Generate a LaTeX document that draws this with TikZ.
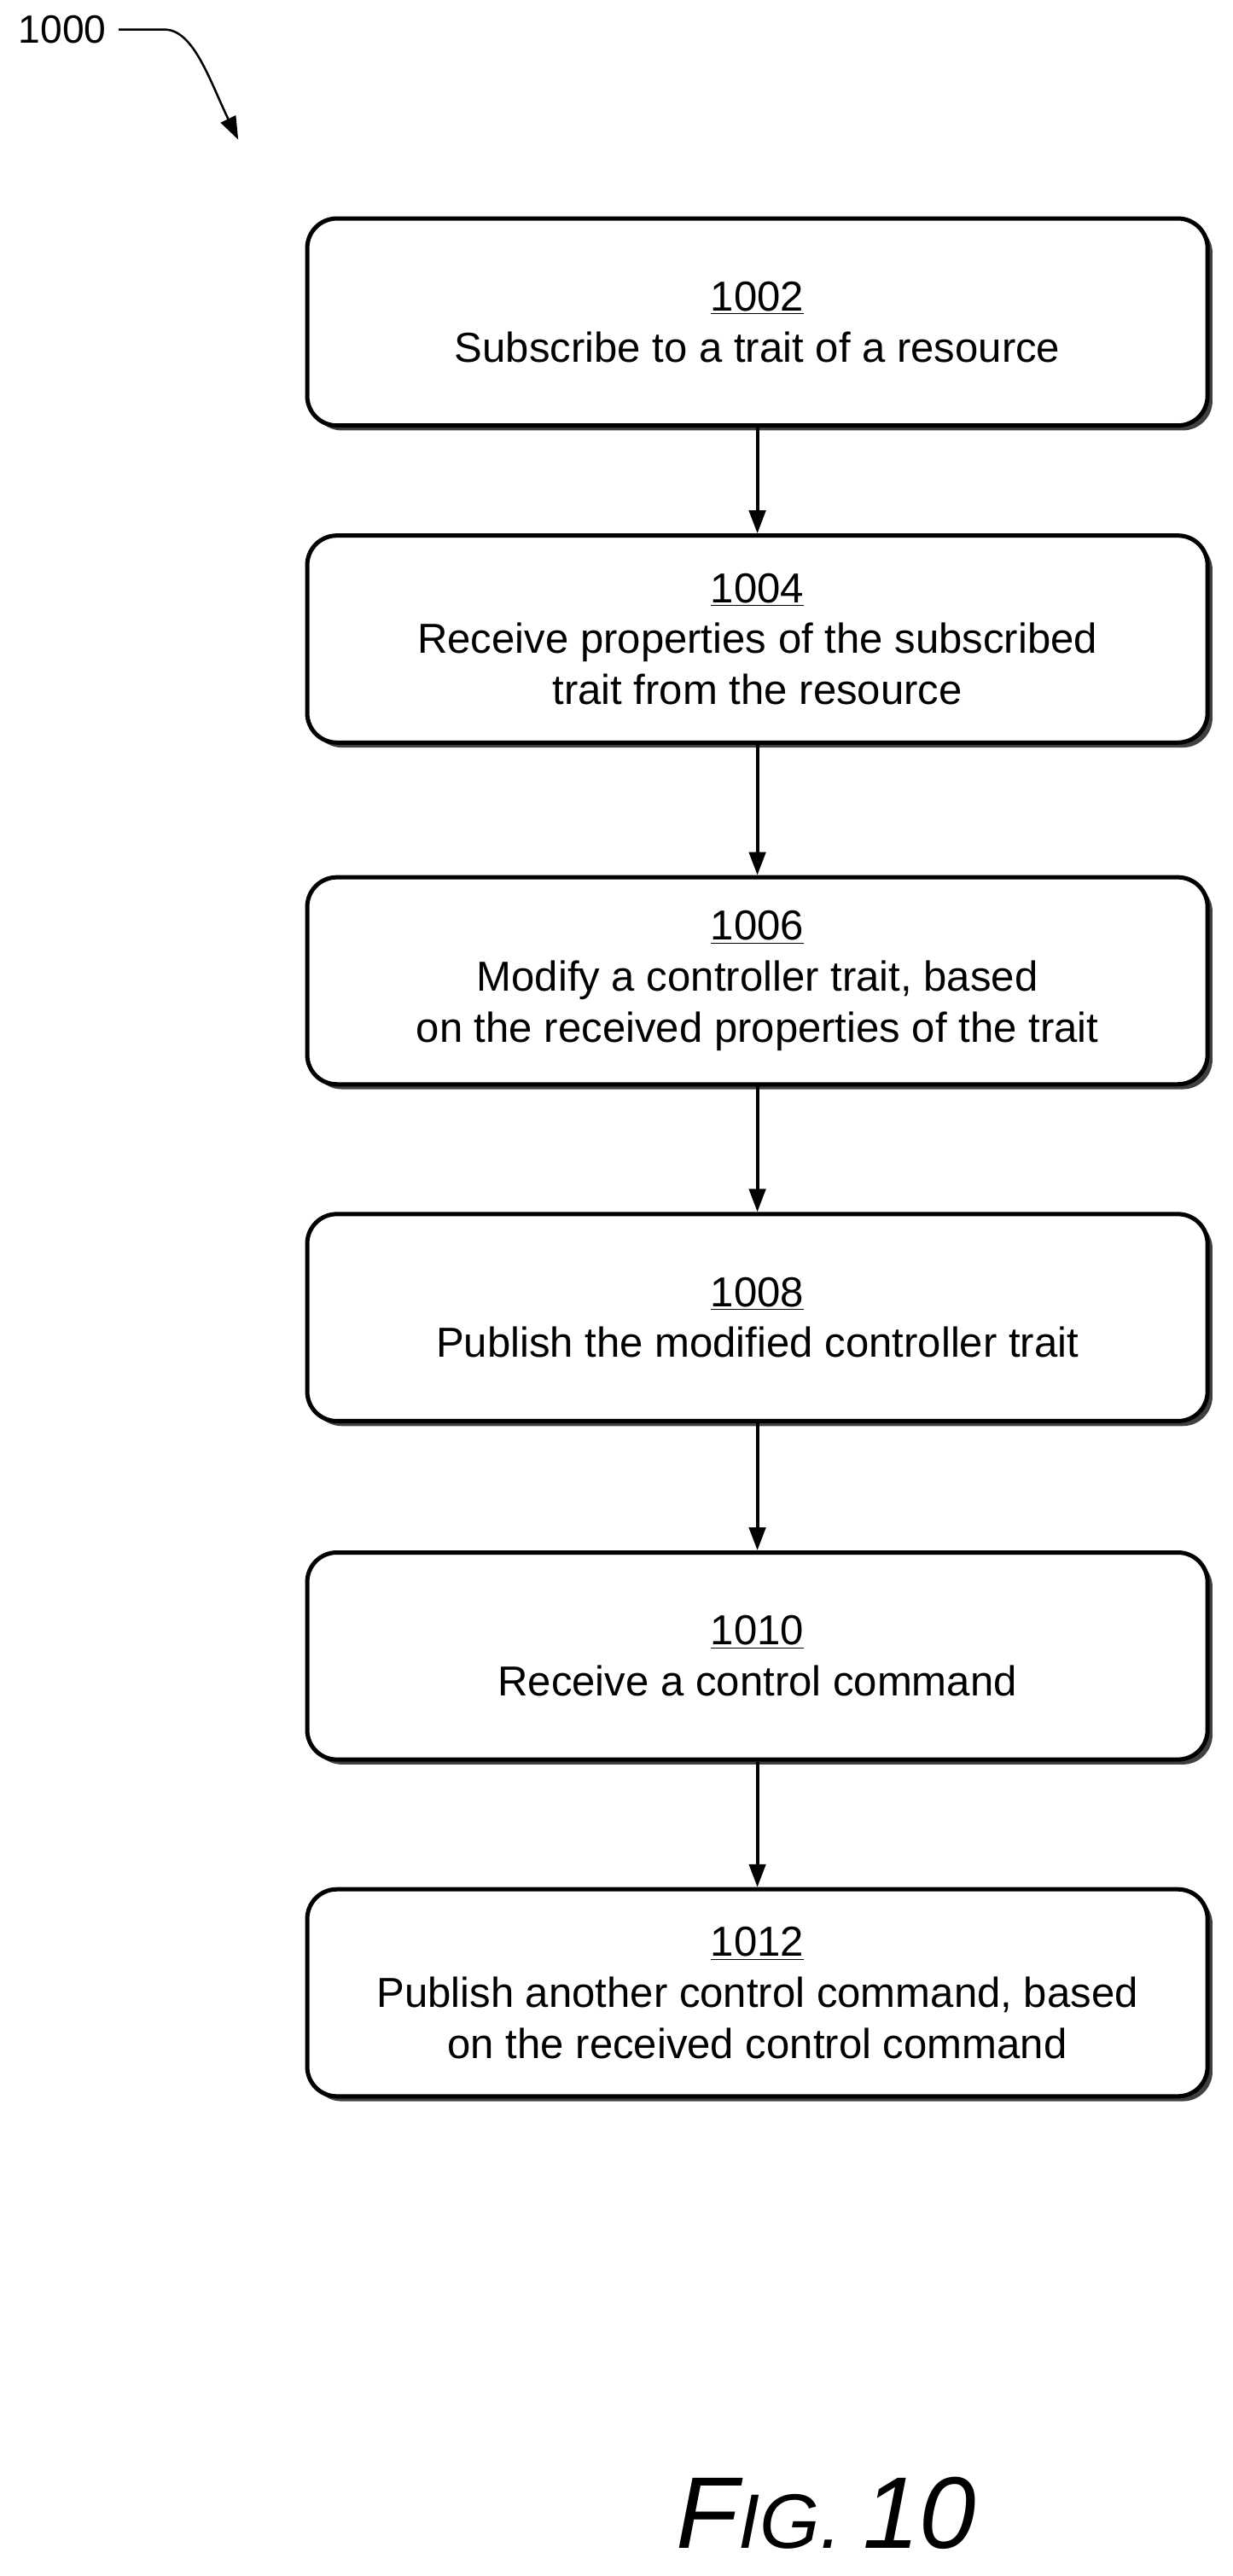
\documentclass[tikz,border=0pt]{standalone}
\usepackage{fontspec}
\setmainfont{Liberation Sans}
\usetikzlibrary{positioning,arrows.meta,shadows}
\begin{document}
\begin{tikzpicture}[x=1pt,y=-1pt]
\tikzstyle{proc}=[rectangle, rounded corners=18pt, draw=black, line width=2.6pt, fill=white,
  minimum width=548pt, minimum height=126pt, align=center, font=\fontsize{25.5}{31}\selectfont,
  drop shadow={shadow xshift=3pt, shadow yshift=-3pt, opacity=1, fill=black!75}]
\tikzstyle{connect}=[-{Triangle[length=14pt,width=10pt]}, line width=2pt]
\useasboundingbox (0,0) rectangle (750,1568);

  \node[proc] (s1) at (461,196)  {\underline{1002}\\Subscribe to a trait of a resource};
  \node[proc] (s2) at (461,389)  {\underline{1004}\\Receive properties of the subscribed\\trait from the resource};
  \node[proc] (s3) at (461,597)  {\underline{1006}\\Modify a controller trait, based\\on the received properties of the trait};
  \node[proc] (s4) at (461,802)  {\underline{1008}\\Publish the modified controller trait};
  \node[proc] (s5) at (461,1008) {\underline{1010}\\Receive a control command};
  \node[proc] (s6) at (461,1213) {\underline{1012}\\Publish another control command, based\\on the received control command};

  \path (s1) edge [connect] (s2)
        (s2) edge [connect] (s3)
        (s3) edge [connect] (s4)
        (s4) edge [connect] (s5)
        (s5) edge [connect] (s6);

  \node[font=\fontsize{24}{26}\selectfont] (lbl) at (38,18) {1000};
  \coordinate (tip) at (145,85);
  \draw[connect, line width=1.3pt] (lbl.east) ++(4pt,0) -- ++(28pt,0)
        .. controls (118,18) and (128,50) .. (tip);

  \node (fig) at (503,1530) {\fontsize{62}{64}\selectfont\itshape F\fontsize{47}{64}\selectfont IG. \fontsize{62}{64}\selectfont 10};
\end{tikzpicture}
\end{document}
